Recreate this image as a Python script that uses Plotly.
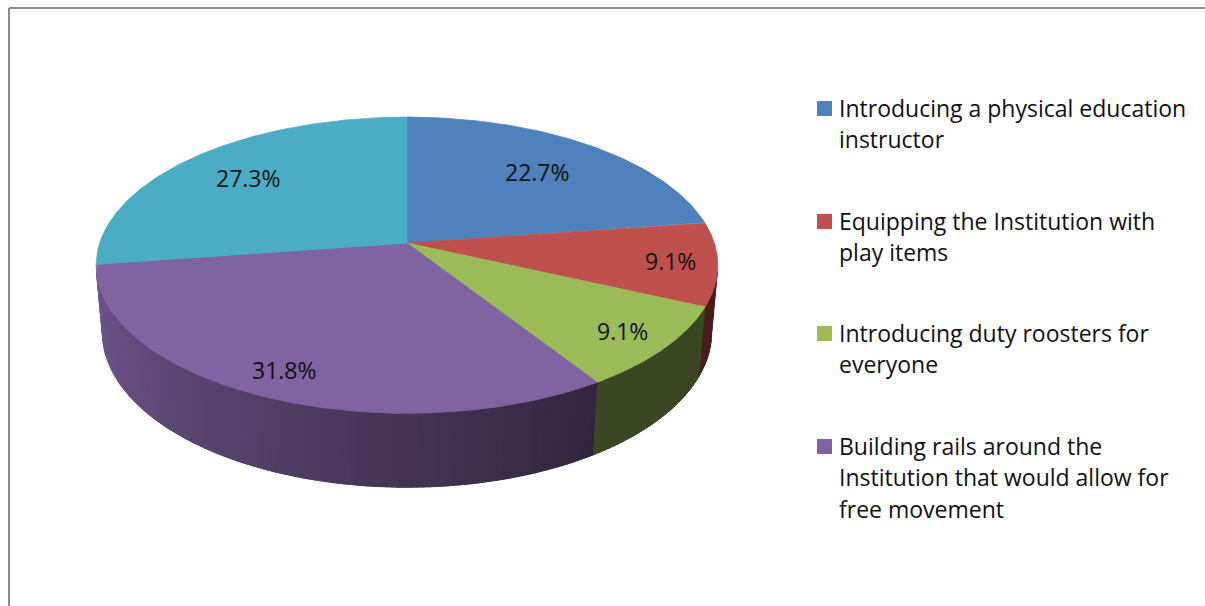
import numpy as np
import plotly.graph_objects as go

# Survey shares (percent), in drawing order starting at 12 o'clock, clockwise
shares = [22.7, 9.1, 9.1, 31.8, 27.3]
slice_colors = ["#4F81BD", "#C0504D", "#9BBB59", "#8064A2", "#4BACC6"]
value_labels = ["22.7%", "9.1%", "9.1%", "31.8%", "27.3%"]

# Legend text (the legend box only has room for the first four entries)
legend_labels = [
    "Introducing a physical education<br>instructor",
    "Equipping the Institution with<br>play items",
    "Introducing duty roosters for<br>everyone",
    "Building rails around the<br>Institution that would allow for<br>free movement",
]

# ---- 3D pie geometry (perspective view of a thick disc) ----
W, H = 1205, 606
CX, CY = 407, 243          # screen position of the pie centre
FOCAL = 1810.0
DIST = 5.89
TILT = np.radians(28.1)
THICK = 0.25               # disc thickness relative to radius
LABEL_R = [0.70, 0.85, 0.85, 0.85, 0.73]
FONT = "Open Sans"


def project(phi, r=1.0, z=0.0):
    """Project a point of the disc (angle clockwise from the back) to screen px."""
    phi = np.asarray(phi, dtype=float)
    wx = r * np.sin(phi)
    wy = -r * np.cos(phi)
    c, s = np.cos(TILT), np.sin(TILT)
    depth = DIST - wy * c - z * s
    sx = CX + FOCAL * wx / depth
    up = FOCAL * (-wy * s + z * c) / depth
    return sx, CY - up


def shade(hex_color, f):
    h = hex_color.lstrip("#")
    rgb = [int(h[i:i + 2], 16) for i in (0, 2, 4)]
    return "rgb({},{},{})".format(*[int(round(v * f)) for v in rgb])


def side_factor(phi):
    deg = np.degrees(phi)
    return float(np.clip(0.38 + (deg - 147.0) / (262.0 - 147.0) * 0.50, 0.38, 0.90))


total = sum(shares)
bounds = np.concatenate([[0.0], np.cumsum(shares)]) / total * 2 * np.pi

# angular range of the outer wall that faces the viewer
vis_lo = np.arccos(-1.0 / (DIST * np.cos(TILT)))
vis_hi = 2 * np.pi - vis_lo

fig = go.Figure()


def add_poly(xs, ys, color, lw=1.0):
    fig.add_trace(go.Scatter(
        x=xs, y=ys, mode="lines", fill="toself", fillcolor=color,
        line=dict(color=color, width=lw), hoverinfo="skip", showlegend=False,
    ))


# outer walls first
for i in range(len(shares)):
    a = max(bounds[i], vis_lo)
    b = min(bounds[i + 1], vis_hi)
    if b <= a:
        continue
    # base wall in a mid tone
    ph = np.linspace(a, b, 80)
    tx, ty = project(ph)
    bx, by = project(ph[::-1], z=-THICK)
    mid = side_factor((a + b) / 2)
    add_poly(np.concatenate([tx, bx]), np.concatenate([ty, by]), shade(slice_colors[i], mid))
    # shading strips
    edges = np.arange(a, b, np.radians(1.0))
    edges = np.append(edges, b)
    for k in range(len(edges) - 1):
        s0, s1 = edges[k], min(edges[k + 1] + np.radians(0.3), b)
        ph = np.linspace(s0, s1, 4)
        tx, ty = project(ph)
        bx, by = project(ph[::-1], z=-THICK)
        col = shade(slice_colors[i], side_factor((s0 + s1) / 2))
        add_poly(np.concatenate([tx, bx]), np.concatenate([ty, by]), col, lw=0.6)

# top faces
for i in range(len(shares)):
    ph = np.linspace(bounds[i], bounds[i + 1], 120)
    rx, ry = project(ph)
    xs = np.concatenate([[CX], rx, [CX]])
    ys = np.concatenate([[CY], ry, [CY]])
    add_poly(xs, ys, slice_colors[i], lw=0.8)

annotations = []
# value labels on the top face
for i in range(len(shares)):
    mid = (bounds[i] + bounds[i + 1]) / 2
    lx, ly = project(mid, r=LABEL_R[i])
    annotations.append(dict(
        x=float(lx), y=float(ly), xref="x", yref="y", text=value_labels[i],
        showarrow=False, xanchor="center", yanchor="middle",
        font=dict(family=FONT, size=23, color="#111111"),
    ))

# legend: colour keys and wrapped labels
shapes = []
LEG_X = 817
LEG_TOP = [116, 229, 341, 454]   # baseline of each entry's first line
LINE_STEP = 31.3
for j, label in enumerate(legend_labels):
    yb = LEG_TOP[j]
    shapes.append(dict(
        type="rect", xref="x", yref="y", x0=LEG_X, x1=LEG_X + 15,
        y0=yb - 15, y1=yb, fillcolor=slice_colors[j], line=dict(width=0),
    ))
    for k, line in enumerate(label.split("<br>")):
        annotations.append(dict(
            x=837, y=yb + k * LINE_STEP - 8, xref="x", yref="y", text=line,
            showarrow=False, xanchor="left", yanchor="middle",
            font=dict(family=FONT, size=23, color="#111111"),
        ))

# chart area frame (top and left edges)
shapes.append(dict(type="line", xref="x", yref="y", x0=9, x1=W, y0=8, y1=8,
                   line=dict(color="#8c8c8c", width=2)))
shapes.append(dict(type="line", xref="x", yref="y", x0=9, x1=9, y0=8, y1=H,
                   line=dict(color="#8c8c8c", width=2)))

fig.update_layout(
    width=W, height=H,
    margin=dict(l=0, r=0, t=0, b=0),
    paper_bgcolor="white", plot_bgcolor="white",
    xaxis=dict(range=[0, W], visible=False, fixedrange=True),
    yaxis=dict(range=[H, 0], visible=False, fixedrange=True),
    annotations=annotations, shapes=shapes, showlegend=False,
)

fig.write_html("out.html")
